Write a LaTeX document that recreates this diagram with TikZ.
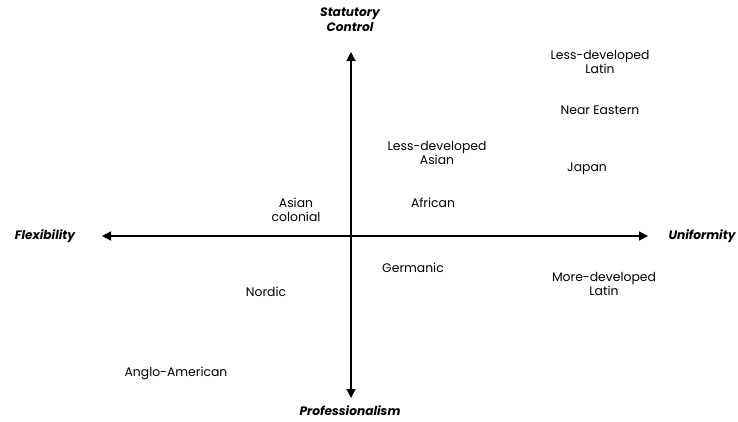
\documentclass[tikz,border=0pt]{standalone}
\usepackage{fontspec}
\setmainfont{Poppins}
\usetikzlibrary{arrows.meta}

\begin{document}
\begin{tikzpicture}[x=1pt, y=-1pt, every node/.style={font=\fontsize{12.4}{14.5}\selectfont, align=center, inner sep=0pt}, axislabel/.style={font=\fontsize{12.2}{15}\selectfont\bfseries\itshape}, axis/.style={line width=1.3pt, {Triangle[length=9pt, width=9pt]}-{Triangle[length=9pt, width=9pt]}}]
        \useasboundingbox (0,0) rectangle (738,421);
        % axis ends
        \coordinate (top) at (351,52);
        \coordinate (bottom) at (351,398);
        \coordinate (left) at (102,236);
        \coordinate (right) at (648,236);
        \draw[axis] (bottom) -- (top);
        \draw[axis] (left) -- (right);
        % axis labels
        \node[axislabel] (statutory) at (350,20) {Statutory\\Control};
        \node[axislabel] (prof) at (350,411) {Professionalism};
        \node[axislabel] (flex) at (45,236) {Flexibility};
        \node[axislabel] (unif) at (702,236) {Uniformity};
        % clusters
        \node (ldlatin) at (600,62) {Less-developed\\Latin};
        \node (neareast) at (600,110) {Near Eastern};
        \node (japan) at (587,169) {Japan};
        \node (ldasian) at (437,153) {Less-developed\\Asian};
        \node (african) at (433,203) {African};
        \node (asiancol) at (296,210) {Asian\\colonial};
        \node (germanic) at (413,268) {Germanic};
        \node (nordic) at (266,292) {Nordic};
        \node (mdlatin) at (604,284) {More-developed\\Latin};
        \node (anglo) at (176,373) {Anglo-American};
      \end{tikzpicture}
\end{document}
